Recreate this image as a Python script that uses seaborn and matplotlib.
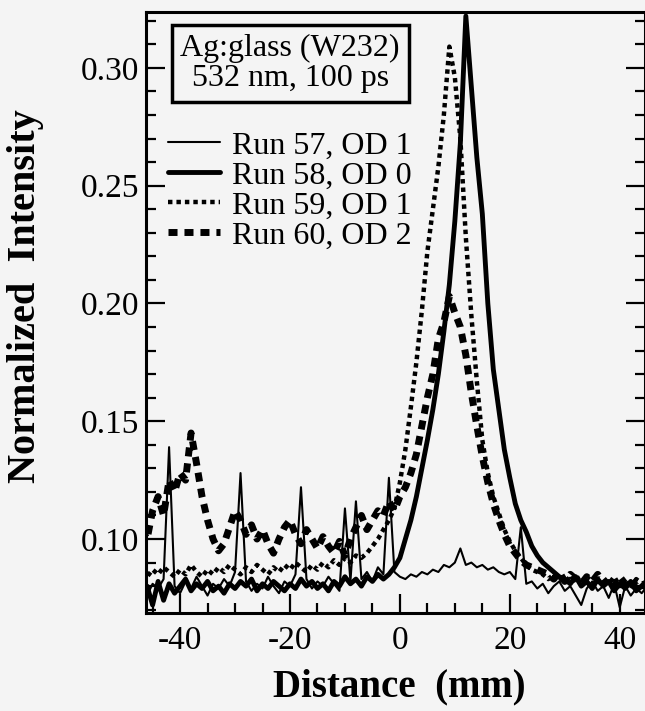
import pandas as pd
import seaborn as sns
import matplotlib.pyplot as plt

# Distance along the sample (mm), one point per mm
DISTANCE = list(range(-47, 46))

# Normalized intensity for each run
RUN_57 = [
    0.078, 0.076, 0.081, 0.079, 0.083, 0.139, 0.080, 0.077, 0.082, 0.079,
    0.084, 0.080, 0.076, 0.081, 0.079, 0.083, 0.080, 0.086, 0.128, 0.082,
    0.078, 0.081, 0.079, 0.084, 0.080, 0.077, 0.082, 0.080, 0.085, 0.122,
    0.083, 0.079, 0.082, 0.080, 0.084, 0.081, 0.078, 0.113, 0.082, 0.116,
    0.083, 0.086, 0.082, 0.088, 0.085, 0.126, 0.086, 0.084, 0.083, 0.085,
    0.084, 0.086, 0.085, 0.087, 0.086, 0.089, 0.088, 0.090, 0.096, 0.089,
    0.090, 0.088, 0.089, 0.087, 0.088, 0.086, 0.085, 0.086, 0.083, 0.105,
    0.081, 0.082, 0.079, 0.081, 0.077, 0.080, 0.082, 0.078, 0.080, 0.076,
    0.072, 0.079, 0.082, 0.078, 0.080, 0.075, 0.081, 0.071, 0.080, 0.076,
    0.079, 0.077, 0.080,
]
RUN_58 = [
    0.079, 0.080, 0.072, 0.082, 0.074, 0.081, 0.077, 0.080, 0.083, 0.078,
    0.081, 0.079, 0.082, 0.078, 0.080, 0.077, 0.081, 0.079, 0.082, 0.080,
    0.083, 0.078, 0.081, 0.079, 0.082, 0.080, 0.078, 0.081, 0.079, 0.083,
    0.080, 0.082, 0.079, 0.081, 0.078, 0.082, 0.080, 0.084, 0.081, 0.083,
    0.080, 0.084, 0.082, 0.085, 0.083, 0.085, 0.088, 0.092, 0.100, 0.108,
    0.118, 0.130, 0.142, 0.155, 0.170, 0.188, 0.208, 0.235, 0.268, 0.322,
    0.292, 0.262, 0.238, 0.200, 0.172, 0.155, 0.138, 0.126, 0.115, 0.108,
    0.103, 0.097, 0.093, 0.090, 0.088, 0.086, 0.084, 0.083, 0.081, 0.084,
    0.080, 0.082, 0.079, 0.083, 0.080, 0.082, 0.078, 0.081, 0.079, 0.082,
    0.078, 0.080, 0.079,
]
RUN_59 = [
    0.086, 0.084, 0.087, 0.085, 0.088, 0.086, 0.084, 0.087, 0.085, 0.089,
    0.086, 0.084, 0.087, 0.085, 0.088, 0.086, 0.089, 0.087, 0.085, 0.088,
    0.086, 0.089, 0.087, 0.085, 0.088, 0.086, 0.089, 0.087, 0.090, 0.088,
    0.086, 0.089, 0.087, 0.090, 0.088, 0.091, 0.089, 0.092, 0.090, 0.093,
    0.092, 0.094, 0.097, 0.100, 0.104, 0.108, 0.113, 0.124, 0.138, 0.156,
    0.175, 0.197, 0.222, 0.240, 0.258, 0.280, 0.309, 0.296, 0.270, 0.228,
    0.195, 0.167, 0.142, 0.128, 0.118, 0.111, 0.104, 0.099, 0.095, 0.092,
    0.089, 0.087, 0.086, 0.085, 0.083, 0.085, 0.082, 0.084, 0.082, 0.085,
    0.081, 0.084, 0.082, 0.080, 0.083, 0.081, 0.084, 0.080, 0.082, 0.079,
    0.083, 0.081, 0.082,
]
RUN_60 = [
    0.104, 0.100, 0.112, 0.118, 0.110, 0.125, 0.120, 0.128, 0.125, 0.145,
    0.132, 0.118, 0.108, 0.100, 0.095, 0.098, 0.105, 0.112, 0.108, 0.102,
    0.106, 0.100, 0.104, 0.098, 0.094, 0.100, 0.105, 0.108, 0.102, 0.098,
    0.104, 0.100, 0.096, 0.101, 0.097, 0.094, 0.099, 0.093, 0.100, 0.105,
    0.110, 0.104, 0.108, 0.112, 0.110, 0.116, 0.112, 0.118, 0.122, 0.128,
    0.136, 0.148, 0.160, 0.170, 0.185, 0.192, 0.203, 0.196, 0.190, 0.178,
    0.162, 0.148, 0.135, 0.124, 0.115, 0.108, 0.102, 0.097, 0.094, 0.091,
    0.089, 0.088, 0.087, 0.086, 0.085, 0.083, 0.086, 0.082, 0.085, 0.083,
    0.081, 0.084, 0.082, 0.085, 0.081, 0.083, 0.080, 0.084, 0.081, 0.083,
    0.080, 0.082, 0.081,
]

RUN_LABELS = ["Run 57, OD 1", "Run 58, OD 0", "Run 59, OD 1", "Run 60, OD 2"]
X_TICKS = [-40, -20, 0, 20, 40]
Y_TICKS = [0.10, 0.15, 0.20, 0.25, 0.30]
BOX_TEXT = "Ag:glass (W232)\n532 nm, 100 ps"

BG = "#f4f4f4"
SERIF = ["Liberation Serif", "DejaVu Serif"]


def build_frame():
    """
    Stacks the four runs into one long table for seaborn.
    """
    runs = [RUN_57, RUN_58, RUN_59, RUN_60]
    parts = []
    for label, values in zip(RUN_LABELS, runs):
        parts.append(pd.DataFrame({"Distance": DISTANCE, "Intensity": values, "Run": label}))
    return pd.concat(parts, ignore_index=True)


def plot_runs(df):
    """
    Draws the four intensity profiles in the old print style.
    """
    sns.set_style("ticks")
    plt.rcParams["font.family"] = SERIF
    # seaborn greys out text; the print is plain black
    for key in ["text.color", "axes.labelcolor", "xtick.color", "ytick.color"]:
        plt.rcParams[key] = "black"

    fig = plt.figure(figsize=(6.45, 7.11), dpi=100, facecolor=BG)
    ax = fig.add_axes([146 / 645, 98 / 711, 499 / 645, 601 / 711], facecolor=BG)

    # line widths and dash patterns per run
    styles = {
        RUN_LABELS[0]: dict(lw=1.5, linestyle="-"),
        RUN_LABELS[1]: dict(lw=3.5, linestyle="-"),
        RUN_LABELS[2]: dict(lw=3.2, linestyle=(0, (1.0, 0.9))),
        RUN_LABELS[3]: dict(lw=5.0, linestyle=(0, (1.3, 1.0))),
    }
    for label in RUN_LABELS:
        sub = df[df["Run"] == label]
        sns.lineplot(data=sub, x="Distance", y="Intensity", ax=ax, color="black",
                     label=label, **styles[label])

    ax.set_xlim(-46.2, 44.6)
    ax.set_ylim(0.0686, 0.3237)
    ax.set_xticks(X_TICKS)
    ax.set_xticklabels([str(t) for t in X_TICKS])
    ax.set_xticks(range(-45, 45, 5), minor=True)
    ax.set_yticks(Y_TICKS)
    ax.set_yticklabels([f"{t:.2f}" for t in Y_TICKS])
    ax.set_yticks([v / 100 for v in range(7, 33)], minor=True)

    for side in ["left", "right", "top", "bottom"]:
        ax.spines[side].set_linewidth(2.2)
        ax.spines[side].set_color("black")

    ax.tick_params(which="both", direction="in", top=False, right=True,
                   bottom=True, left=True, width=1.6, colors="black",
                   labelcolor="black")
    ax.tick_params(which="major", length=14, labelsize=24)
    ax.tick_params(which="minor", length=7)
    ax.tick_params(axis="x", which="major", pad=9)
    ax.tick_params(axis="y", which="major", pad=5)

    ax.set_xlabel("Distance  (mm)", fontsize=28, fontweight="bold", color="black")
    ax.set_ylabel("Normalized  Intensity", fontsize=29, fontweight="bold", color="black")
    ax.xaxis.set_label_coords(0.507, -0.092)
    ax.yaxis.set_label_coords(-0.205, 0.527)

    ax.text(0.289, 0.914, BOX_TEXT, transform=ax.transAxes, ha="center", va="center",
            fontsize=23, linespacing=1.05, color="black",
            bbox=dict(boxstyle="square,pad=0.28", fc=BG, ec="black", lw=2.5))

    leg = ax.legend(loc="upper left", bbox_to_anchor=(0.045, 0.802), frameon=False,
                    fontsize=23, handlelength=1.6, handletextpad=0.4,
                    labelspacing=0.02, borderpad=0, borderaxespad=0)
    for txt in leg.get_texts():
        txt.set_color("black")

    fig.savefig("out.png", dpi=100, facecolor=BG)


if __name__ == "__main__":
    data = build_frame()
    plot_runs(data)
